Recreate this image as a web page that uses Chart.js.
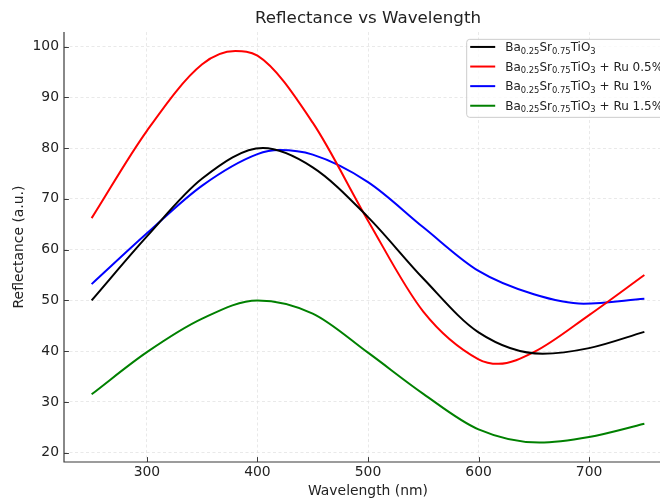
<!DOCTYPE html>
<html><head><meta charset="utf-8">
<script src="https://cdn.jsdelivr.net/npm/chart.js@4.4.0/dist/chart.umd.min.js"></script>
<style>
html,body{margin:0;padding:0;overflow:hidden;background:#fff;width:660px;height:501px;}
#wrap{position:absolute;left:0;top:0;width:672px;height:501px;}
canvas{display:block;}
</style></head><body>
<div id="wrap"><canvas id="c" width="672" height="501"></canvas></div>
<script>
// ---- data ----
const blackX = [250, 300, 350, 405, 450, 500, 550, 600, 658, 700, 750];
const blackY = [50.0, 62.6, 74.0, 80.0, 76.2, 66.4, 54.3, 43.7, 39.5, 40.6, 43.8];
const redX   = [250, 300, 350, 380, 400, 450, 500, 550, 600, 618, 650, 700, 750];
const redY   = [66.2, 83.4, 96.5, 99.1, 98.2, 85.0, 65.7, 47.8, 38.4, 37.5, 39.8, 47.1, 55.0];
const blueX  = [250, 300, 350, 400, 420, 450, 500, 550, 600, 650, 695, 750];
const blueY  = [53.2, 63.2, 72.6, 78.8, 79.6, 78.7, 73.3, 64.4, 55.8, 51.2, 49.35, 50.3];
const greenX = [250, 300, 350, 400, 450, 500, 550, 600, 655, 700, 750];
const greenY = [31.5, 39.8, 46.4, 50.0, 47.4, 39.7, 31.6, 24.6, 22.0, 23.1, 25.7];

const xTicks = [300, 400, 500, 600, 700];
const yTicks = [20, 30, 40, 50, 60, 70, 80, 90, 100];
const seriesLabels = [
  "Ba_{0.25}Sr_{0.75}TiO_{3}",
  "Ba_{0.25}Sr_{0.75}TiO_{3} + Ru 0.5%",
  "Ba_{0.25}Sr_{0.75}TiO_{3} + Ru 1%",
  "Ba_{0.25}Sr_{0.75}TiO_{3} + Ru 1.5%"
];
const seriesColors = ["#000000", "#ff0000", "#0000ff", "#008000"];
const titleText = "Reflectance vs Wavelength";
const xTitle = "Wavelength (nm)";
const yTitle = "Reflectance (a.u.)";

// ---- build ----
const FONT = "DejaVu Sans";
const TXT = "#222222";
const xs = [blackX, redX, blueX, greenX];
const ys = [blackY, redY, blueY, greenY];
const plain = s => s.replace(/_\{([^}]*)\}/g, "$1");

const datasets = xs.map((xa, i) => ({
  label: plain(seriesLabels[i]),
  data: xa.map((x, j) => ({x: x, y: ys[i][j]})),
  borderColor: seriesColors[i],
  backgroundColor: seriesColors[i],
  borderWidth: 2,
  pointRadius: 0,
  fill: false,
  cubicInterpolationMode: 'monotone'
}));

function parseRich(s) {
  const parts = [];
  const re = /_\{([^}]*)\}/g;
  let last = 0, m;
  while ((m = re.exec(s)) !== null) {
    if (m.index > last) parts.push([s.slice(last, m.index), 0]);
    parts.push([m[1], 1]);
    last = re.lastIndex;
  }
  if (last < s.length) parts.push([s.slice(last), 0]);
  return parts;
}
function drawRich(ctx, s, x, yMid, fs) {
  const base = yMid + 0.36 * fs;
  ctx.textBaseline = 'alphabetic';
  ctx.textAlign = 'left';
  for (const [t, sub] of parseRich(s)) {
    ctx.font = (sub ? fs * 0.7 : fs) + "px '" + FONT + "'";
    ctx.fillText(t, x, sub ? base + 0.2 * fs : base);
    x += ctx.measureText(t).width;
  }
}
function roundRect(ctx, x, y, w, h, r) {
  ctx.beginPath();
  ctx.moveTo(x + r, y);
  ctx.lineTo(x + w - r, y);
  ctx.arcTo(x + w, y, x + w, y + r, r);
  ctx.lineTo(x + w, y + h - r);
  ctx.arcTo(x + w, y + h, x + w - r, y + h, r);
  ctx.lineTo(x + r, y + h);
  ctx.arcTo(x, y + h, x, y + h - r, r);
  ctx.lineTo(x, y + r);
  ctx.arcTo(x, y, x + r, y, r);
  ctx.closePath();
}

const decor = {
  id: 'decor',
  afterDatasetsDraw(chart) {
    const ctx = chart.ctx, a = chart.chartArea;
    const sx = chart.scales.x, sy = chart.scales.y;
    ctx.save();
    ctx.strokeStyle = '#3a3a3a';
    ctx.lineWidth = 1.2;
    ctx.beginPath();
    ctx.moveTo(a.left, a.top); ctx.lineTo(a.left, a.bottom); ctx.lineTo(a.right, a.bottom);
    ctx.stroke();
    ctx.lineWidth = 1;
    ctx.beginPath();
    for (const v of yTicks) { const p = Math.round(sy.getPixelForValue(v)) + 0.5; ctx.moveTo(a.left, p); ctx.lineTo(a.left + 4.9, p); }
    for (const v of xTicks) { const p = Math.round(sx.getPixelForValue(v)) + 0.5; ctx.moveTo(p, a.bottom); ctx.lineTo(p, a.bottom - 4.9); }
    ctx.stroke();
    ctx.restore();
  },
  afterDraw(chart) {
    const ctx = chart.ctx, a = chart.chartArea;
    const fs = 12, rowH = 19.6;
    ctx.save();
    const left = a.left + 402.7;
    const top = a.top + 7.3;
    const w = 215;
    const h = 78;
    roundRect(ctx, left, top, w, h, 3);
    ctx.fillStyle = 'rgba(255,255,255,0.8)';
    ctx.fill();
    ctx.strokeStyle = '#cccccc';
    ctx.lineWidth = 1;
    ctx.stroke();
    seriesLabels.forEach((s, i) => {
      const yc = top + 7.6 + i * rowH;
      ctx.strokeStyle = seriesColors[i];
      ctx.lineWidth = 2;
      ctx.beginPath(); ctx.moveTo(left + 3.5, yc); ctx.lineTo(left + 28.5, yc); ctx.stroke();
      ctx.fillStyle = TXT;
      drawRich(ctx, s, left + 38.5, yc, fs);
    });
    ctx.restore();
  }
};

new Chart(document.getElementById('c'), {
  type: 'line',
  data: { datasets: datasets },
  plugins: [decor],
  options: {
    responsive: false,
    animation: false,
    devicePixelRatio: 1,
    layout: { padding: 0 },
    plugins: {
      legend: { display: false },
      tooltip: { enabled: false },
      title: {
        display: true, text: titleText, fullSize: false, color: TXT,
        font: { family: FONT, size: 16.7, weight: 'normal' },
        padding: { top: 9, bottom: 3 }
      }
    },
    scales: {
      x: {
        type: 'linear', min: 225, max: 775,
        afterBuildTicks: s => { s.ticks = xTicks.map(v => ({value: v})); },
        afterFit: s => { s.height = 39; },
        ticks: { color: TXT, font: { family: FONT, size: 13.9 }, padding: 2, maxRotation: 0 },
        grid: { color: '#e3e3e3', lineWidth: 0.8, drawTicks: false },
        border: { display: false, dash: [3, 2.5] },
        title: { display: true, text: xTitle, color: TXT, font: { family: FONT, size: 13.9 }, padding: { top: 0, bottom: 1.7 } }
      },
      y: {
        type: 'linear', min: 18.17, max: 102.85,
        afterBuildTicks: s => { s.ticks = yTicks.map(v => ({value: v})); },
        afterFit: s => { s.width = 64; },
        ticks: { color: TXT, font: { family: FONT, size: 13.9 }, padding: 5 },
        grid: { color: '#e3e3e3', lineWidth: 0.8, drawTicks: false },
        border: { display: false, dash: [3, 2.5] },
        title: { display: true, text: yTitle, color: TXT, font: { family: FONT, size: 13.9 }, padding: { top: 11, bottom: 0 } }
      }
    }
  }
});
</script>
</body></html>
